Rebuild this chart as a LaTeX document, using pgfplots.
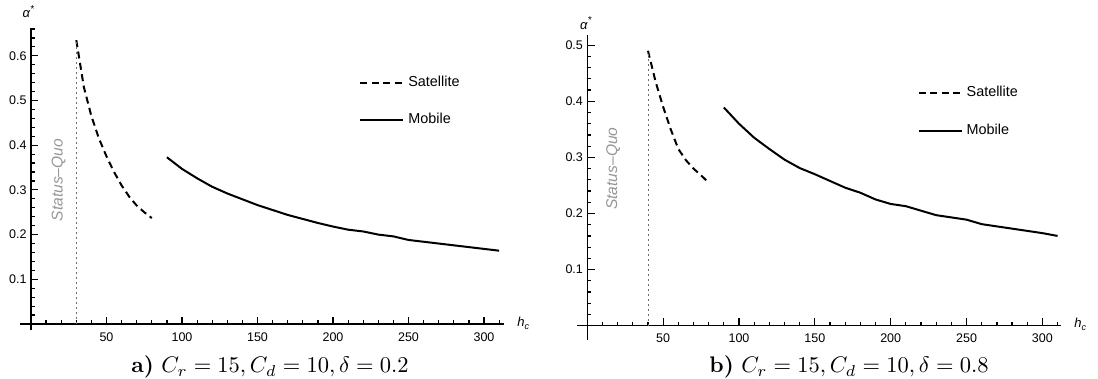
\documentclass[border=0pt]{standalone}
\usepackage{fontspec}
\usepackage{pgfplots}
\pgfplotsset{compat=1.18}
\newfontfamily\mma{Liberation Sans}
\definecolor{sqgray}{RGB}{150,150,150}
\definecolor{dotgray}{RGB}{110,110,110}

\pgfplotstableread{
x y
30 0.635
35 0.530
40 0.465
45 0.415
50 0.375
55 0.340
60 0.310
65 0.285
70 0.265
75 0.250
80 0.237
}\satA
\pgfplotstableread{
x y
90 0.373
100 0.347
110 0.326
120 0.307
130 0.292
140 0.279
150 0.266
160 0.255
170 0.244
180 0.235
190 0.226
200 0.218
210 0.211
220 0.207
230 0.200
240 0.196
250 0.188
260 0.184
270 0.180
280 0.176
290 0.172
300 0.168
310 0.164
}\mobA
\pgfplotstableread{
x y
40 0.490
45 0.435
50 0.390
55 0.350
60 0.315
65 0.295
70 0.280
75 0.268
80 0.255
}\satB
\pgfplotstableread{
x y
90 0.389
100 0.360
110 0.335
120 0.315
130 0.296
140 0.281
150 0.270
160 0.258
170 0.246
180 0.237
190 0.225
200 0.217
210 0.213
220 0.205
230 0.197
240 0.193
250 0.189
260 0.181
270 0.177
280 0.173
290 0.169
300 0.165
310 0.160
}\mobB

\pgfplotsset{
  mmastyle/.style={
    axis lines=left,
    axis line style={-, black, line width=0.55pt},
    tick align=inside,
    major tick length=3.6pt,
    minor tick length=2pt,
    xtick={50,100,150,200,250,300},
    minor xtick={10,20,30,40,60,70,80,90,110,120,130,140,160,170,180,190,210,220,230,240,260,270,280,290,310},
    tick style={draw=black, line width=0.6pt},
    ticklabel style={font=\mma\fontsize{6.25}{7}\selectfont, inner sep=0pt},
    /pgf/number format/assume math mode=true,
    xticklabel style={anchor=north, yshift=-4pt},
    yticklabel style={anchor=east, xshift=-2pt},
    clip=false,
    legend cell align=left,
    legend style={draw=none, fill=none, font=\mma\fontsize{7.2}{8}\selectfont, inner sep=0pt, row sep=8pt, anchor=west},
    legend image code/.code={\draw[##1] (0pt,0pt) -- (21.5pt,0pt);},
  },
  satstyle/.style={black, line width=1pt, dash pattern=on 3.5pt off 2.25pt},
  mobstyle/.style={black, line width=1pt},
  sqstyle/.style={dotgray, line width=0.4pt, dash pattern=on 1pt off 1.5pt, forget plot},
}

\begin{document}
\begin{tikzpicture}
\useasboundingbox (0,0) rectangle (549pt,189.5pt);
% Panel a
\begin{axis}[mmastyle, at={(15.5pt,27.5pt)}, anchor=south west,
  x=0.755pt, y=223.5pt,
  xmin=0, xmax=313, ymin=0, ymax=0.662,
  ytick={0.1,0.2,0.3,0.4,0.5,0.6},
  minor ytick={0.02,0.04,0.06,0.08,0.12,0.14,0.16,0.18,0.22,0.24,0.26,0.28,0.32,0.34,0.36,0.38,0.42,0.44,0.46,0.48,0.52,0.54,0.56,0.58,0.62,0.64,0.66},
  x axis line style={shorten <=-5.3pt},
  y axis line style={shorten <=-2.9pt},
  legend style={at={(axis cs:217.2,0.498)}}]
\addplot[satstyle] table[x=x,y=y] {\satA};
\addlegendentry{Satellite}
\addplot[mobstyle] table[x=x,y=y] {\mobA};
\addlegendentry{Mobile}
\addplot[sqstyle] coordinates {(30,0) (30,0.635)};
\node[rotate=90, text=sqgray, font=\mma\itshape\fontsize{7.8}{9}\selectfont] at (axis cs:18.3,0.322) {Status–Quo};
\node[font=\mma\itshape\fontsize{6.5}{7}\selectfont] at (axis cs:-1.8,0.699) {α\raisebox{0.8ex}{\fontsize{5}{5}\selectfont *}};
\node[font=\mma\itshape\fontsize{6.5}{7}\selectfont] at (axis cs:326,0.002) {h\raisebox{-0.4ex}{\fontsize{4.5}{4.5}\selectfont c}};
\end{axis}
% Panel b
\begin{axis}[mmastyle, at={(293.65pt,26.65pt)}, anchor=south west,
  x=0.7585pt, y=280.5pt,
  xmin=0, xmax=312, ymin=0, ymax=0.518,
  ytick={0.1,0.2,0.3,0.4,0.5},
  minor ytick={0.02,0.04,0.06,0.08,0.12,0.14,0.16,0.18,0.22,0.24,0.26,0.28,0.32,0.34,0.36,0.38,0.42,0.44,0.46,0.48},
  x axis line style={shorten <=-5pt},
  y axis line style={shorten <=-7pt},
  legend style={at={(axis cs:217.5,0.381)}}]
\addplot[satstyle] table[x=x,y=y] {\satB};
\addlegendentry{Satellite}
\addplot[mobstyle] table[x=x,y=y] {\mobB};
\addlegendentry{Mobile}
\addplot[sqstyle] coordinates {(40,0) (40,0.49)};
\node[rotate=90, text=sqgray, font=\mma\itshape\fontsize{7.8}{9}\selectfont] at (axis cs:17,0.28) {Status–Quo};
\node[font=\mma\itshape\fontsize{6.5}{7}\selectfont] at (axis cs:-1,0.539) {α\raisebox{0.8ex}{\fontsize{5}{5}\selectfont *}};
\node[font=\mma\itshape\fontsize{6.5}{7}\selectfont] at (axis cs:325,0.002) {h\raisebox{-0.4ex}{\fontsize{4.5}{4.5}\selectfont c}};
\end{axis}
\node[anchor=base, scale=1.125, transform shape] at (135pt,3pt) {\textbf{a)} $C_r = 15, C_d = 10, \delta = 0.2$};
\node[anchor=base, scale=1.125, transform shape] at (424.5pt,3pt) {\textbf{b)} $C_r = 15, C_d = 10, \delta = 0.8$};
\end{tikzpicture}
\end{document}
